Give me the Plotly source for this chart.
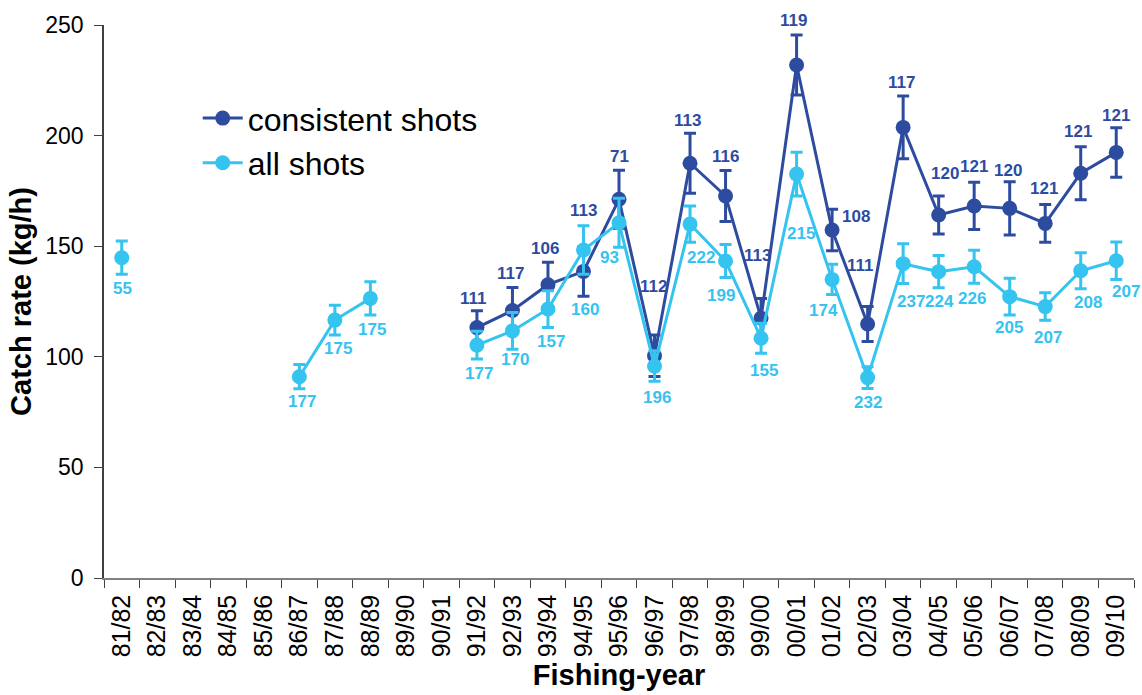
import plotly.graph_objects as go

# Fishing-year categories
years = ["81/82", "82/83", "83/84", "84/85", "85/86", "86/87", "87/88", "88/89",
         "89/90", "90/91", "91/92", "92/93", "93/94", "94/95", "95/96", "96/97",
         "97/98", "98/99", "99/00", "00/01", "01/02", "02/03", "03/04", "04/05",
         "05/06", "06/07", "07/08", "08/09", "09/10"]

# Catch rate (kg/h) from consistent shots, with error half-width and sample size
consistent_rate = [None, None, None, None, None, None, None, None, None, None,
                   113.2, 120.9, 132.6, 138.6, 171.2, 100.5, 187.5, 172.7, 117.5,
                   231.9, 157.3, 114.8, 203.7, 164.1, 168.2, 167.1, 160.3, 183.0, 192.4]
consistent_err = [None, None, None, None, None, None, None, None, None, None,
                  7.6, 10.4, 10.1, 11.2, 13.1, 9.4, 13.6, 11.5, 8.8,
                  13.6, 9.4, 7.9, 14.2, 8.6, 10.7, 12.0, 8.5, 12.0, 11.2]
consistent_n = [None, None, None, None, None, None, None, None, None, None,
                111, 117, 106, 113, 71, 112, 113, 116, 113,
                119, 108, 111, 117, 120, 121, 120, 121, 121, 121]

# Catch rate (kg/h) from all shots, with error half-width and sample size
all_rate = [144.8, None, None, None, None, 91.0, 116.6, 126.4, None, None,
            105.3, 111.7, 121.6, 148.3, 160.6, 95.8, 160.0, 143.3, 108.4,
            182.6, 135.0, 90.6, 142.1, 138.5, 140.7, 127.2, 122.7, 138.9, 143.4]
all_err = [7.5, None, None, None, None, 5.5, 6.7, 7.5, None, None,
           6.3, 8.3, 8.3, 11.0, 11.1, 6.9, 8.2, 7.5, 6.8,
           9.9, 6.8, 4.9, 9.0, 7.3, 7.5, 8.3, 6.2, 8.1, 8.5]
all_n = [55, None, None, None, None, 177, 175, 175, None, None,
         177, 170, 157, 160, 93, 196, 222, 199, 155,
         215, 174, 232, 237, 224, 226, 205, 207, 208, 207]

# Pixel nudges for the sample-size labels (dx right, dy down)
consistent_nudge = [None] * 10 + [
    (-3, -29), (-2, -37), (-3, -36), (0, -61), (0, -43), (-1, -69), (-3, -43),
    (0, -39), (-4, -63), (-3, -45), (24, -14), (-7, -59), (-2, -45), (6, -42),
    (0, -39), (-2, -38), (-1, -35), (-3, -42), (0, -37)]
all_nudge = [(1, 31), None, None, None, None, (3, 25), (3, 28), (2, 31), None, None,
             (2, 28), (3, 29), (3, 32), (2, 60), (-10, 35), (2, 31), (11, 33),
             (-5, 34), (3, 32), (4, 59), (-9, 31), (0, 25), (8, 38), (1, 30),
             (-2, 32), (-1, 31), (3, 31), (7, 32), (10, 31)]

DARK = "#2E4C9F"
LIGHT = "#35C3EF"
FONT = "Liberation Sans, Arial, sans-serif"

fig = go.Figure()

fig.add_trace(go.Scatter(
    x=years, y=consistent_rate, name="consistent shots",
    mode="lines+markers",
    line=dict(color=DARK, width=3),
    marker=dict(color=DARK, size=15),
    error_y=dict(type="data", array=consistent_err, visible=True,
                 color=DARK, thickness=3, width=6),
))
fig.add_trace(go.Scatter(
    x=years, y=all_rate, name="all shots",
    mode="lines+markers",
    line=dict(color=LIGHT, width=3),
    marker=dict(color=LIGHT, size=15),
    error_y=dict(type="data", array=all_err, visible=True,
                 color=LIGHT, thickness=3, width=6),
))

annotations = []
for yr, val, n, nud in zip(years, consistent_rate, consistent_n, consistent_nudge):
    if val is None:
        continue
    annotations.append(dict(x=yr, y=val, text=f"<b>{n}</b>", showarrow=False,
                            xshift=nud[0], yshift=-nud[1],
                            font=dict(family=FONT, size=17, color=DARK)))
for yr, val, n, nud in zip(years, all_rate, all_n, all_nudge):
    if val is None:
        continue
    annotations.append(dict(x=yr, y=val, text=f"<b>{n}</b>", showarrow=False,
                            xshift=nud[0], yshift=-nud[1],
                            font=dict(family=FONT, size=17, color=LIGHT)))

fig.update_layout(
    width=1142, height=695,
    margin=dict(l=104, r=8, t=25, b=117),
    paper_bgcolor="white", plot_bgcolor="white",
    font=dict(family=FONT, color="black"),
    showlegend=True,
    legend=dict(x=0.091, y=0.881, xanchor="left", yanchor="top",
                font=dict(family=FONT, size=32, color="black"),
                bgcolor="rgba(0,0,0,0)", tracegroupgap=0, itemwidth=40),
    annotations=annotations,
)

fig.update_xaxes(
    type="category", categoryorder="array", categoryarray=years,
    range=[-0.5, len(years) - 0.5],
    showline=True, linecolor="#808080", linewidth=1.5,
    ticks="outside", tickson="boundaries", ticklen=8, tickcolor="#404040",
    ticklabelstandoff=5,
    tickangle=-90, tickfont=dict(family=FONT, size=25, color="black"),
    showgrid=False, zeroline=False,
    title=dict(text="<b>Fishing-year</b>", font=dict(family=FONT, size=29, color="black"),
               standoff=8),
)
fig.update_yaxes(
    range=[0, 250], tickvals=[0, 50, 100, 150, 200, 250],
    showline=True, linecolor="#404040", linewidth=1.5,
    ticks="outside", ticklen=8, tickcolor="#404040",
    ticklabelstandoff=6,
    tickfont=dict(family=FONT, size=23, color="black"),
    showgrid=False, zeroline=False,
    title=dict(text="<b>Catch rate (kg/h)</b>", font=dict(family=FONT, size=29, color="black"),
               standoff=5),
)

fig.write_html("out.html")
